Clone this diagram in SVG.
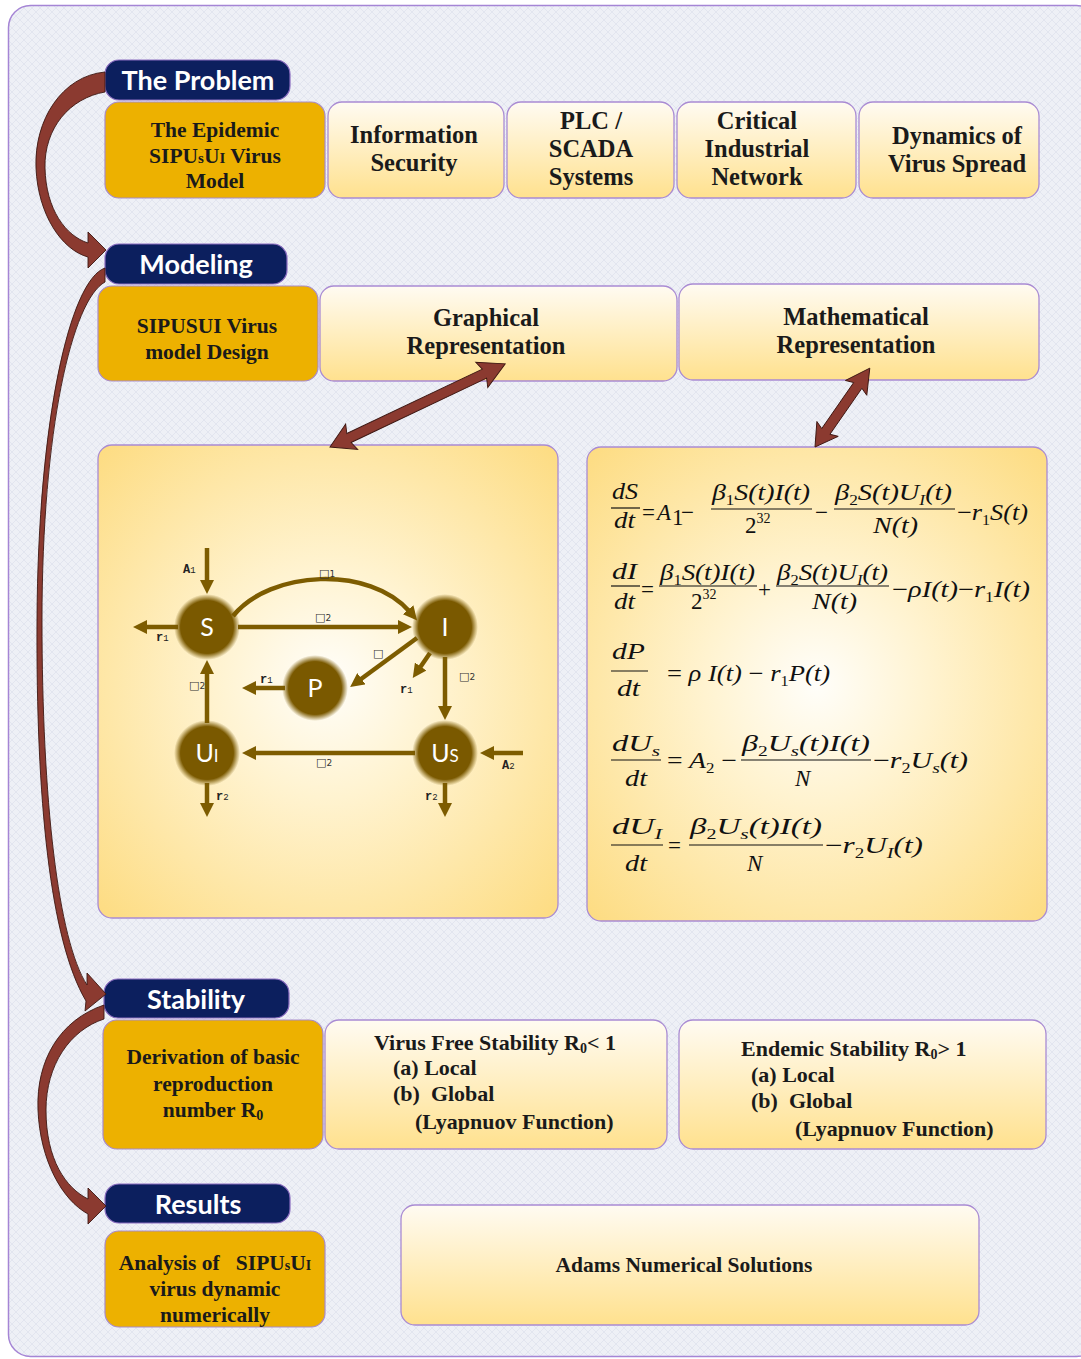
<svg xmlns="http://www.w3.org/2000/svg" width="1081" height="1359" viewBox="0 0 1081 1359">
<style>
.hdr{fill:#0c1f5e;stroke:#8a6cc0;stroke-width:1.2}
.htx{font-family:Lato,"Open Sans",sans-serif;font-weight:bold;font-size:27px;fill:#fff;text-anchor:middle}
.org{fill:#edb100;stroke:#a88bc9;stroke-width:1.2}
.lt{fill:url(#lg);stroke:#a98bd3;stroke-width:1.3}
.big{fill:url(#rg);stroke:#a98bd3;stroke-width:1.3}
.bt{font-family:"Liberation Serif",serif;font-weight:bold;font-size:21.5px;fill:#1a1a1a;text-anchor:middle}
.tp{font-size:24.5px}
.bs{font-family:"Liberation Serif",serif;font-weight:bold;font-size:22px;fill:#1a1a1a}
.blk{fill:#8b3a30;stroke:#3d1712;stroke-width:0.9}
.gl{stroke:#7d5c00;stroke-width:4.5;fill:none;marker-end:url(#ah)}
.nd{fill:url(#nodeg)}
.ntx{font-family:Lato,"Open Sans",sans-serif;font-size:25px;fill:#fff;text-anchor:middle}
.lb{font-family:"Liberation Mono",monospace;font-weight:bold;font-size:12px;fill:#222}
.bx{font-family:"DejaVu Sans",sans-serif;font-size:11px;fill:#333}
.m{font-family:"Liberation Serif",serif;font-style:italic;font-size:23px;fill:#111}
.mr{font-family:"Liberation Serif",serif;font-size:23px;fill:#111}
.fl{stroke:#111;stroke-width:1.2}
</style>
<defs>
<pattern id="bgp" width="8" height="8" patternUnits="userSpaceOnUse">
<rect width="8" height="8" fill="#eef0f6"/>
<path d="M0,0 L8,8 M8,0 L0,8" stroke="#dde1ec" stroke-width="0.7"/>
</pattern>
<linearGradient id="lg" x1="0" y1="0" x2="0" y2="1">
<stop offset="0" stop-color="#fffbf2"/>
<stop offset="1" stop-color="#ffe18e"/>
</linearGradient>
<radialGradient id="rg" cx="0.5" cy="0.5" r="0.7">
<stop offset="0" stop-color="#fffefa"/>
<stop offset="0.35" stop-color="#fff3d0"/>
<stop offset="1" stop-color="#fddc82"/>
</radialGradient>
<radialGradient id="nodeg" cx="0.5" cy="0.5" r="0.5">
<stop offset="0" stop-color="#7a5900"/>
<stop offset="0.8" stop-color="#7a5900"/>
<stop offset="1" stop-color="#7a5900" stop-opacity="0"/>
</radialGradient>
<marker id="ah" markerWidth="14" markerHeight="14" refX="3" refY="7" orient="auto" markerUnits="userSpaceOnUse">
<path d="M0,0 L14,7 L0,14 z" fill="#7d5c00"/>
</marker>
</defs>
<rect x="0" y="0" width="1081" height="1359" fill="#fff"/>
<rect x="8.5" y="5.5" width="1090" height="1351" rx="22" fill="url(#bgp)" stroke="#a585d5" stroke-width="1.5"/>

<g id="problem-header"><rect class="hdr" x="105" y="60" width="185" height="40" rx="14"/><text class="htx" x="198" y="90">The Problem</text></g>
<g id="epidemic"><rect class="org" x="105" y="102" width="220" height="96" rx="14"/>
<text class="bt" x="215" y="137">The Epidemic</text>
<text class="bt" x="215" y="163">SIPU<tspan font-size="15">s</tspan>U<tspan font-size="15">I</tspan> Virus</text>
<text class="bt" x="215" y="188">Model</text></g>
<g id="infosec"><rect class="lt" x="328" y="102" width="176" height="96" rx="14"/>
<text class="bt tp" x="414" y="143">Information</text><text class="bt tp" x="414" y="171">Security</text></g>
<g id="plc"><rect class="lt" x="507" y="102" width="167" height="96" rx="14"/>
<text class="bt tp" x="591" y="129">PLC /</text><text class="bt tp" x="591" y="157">SCADA</text><text class="bt tp" x="591" y="185">Systems</text></g>
<g id="critical"><rect class="lt" x="677" y="102" width="179" height="96" rx="14"/>
<text class="bt tp" x="757" y="129">Critical</text><text class="bt tp" x="757" y="157">Industrial</text><text class="bt tp" x="757" y="185">Network</text></g>
<g id="dynamics"><rect class="lt" x="859" y="102" width="180" height="96" rx="14"/>
<text class="bt tp" x="957" y="144">Dynamics of</text><text class="bt tp" x="957" y="172">Virus Spread</text></g>

<g id="modeling-header"><rect class="hdr" x="105" y="244" width="182" height="40" rx="14"/><text class="htx" x="196" y="274">Modeling</text></g>
<g id="design"><rect class="org" x="98" y="286" width="220" height="95" rx="14"/>
<text class="bt" x="207" y="333" font-size="22">SIPUSUI Virus</text><text class="bt" x="207" y="359" font-size="22">model Design</text></g>
<g id="graphical"><rect class="lt" x="320" y="286" width="357" height="95" rx="14"/>
<text class="bt tp" x="486" y="326">Graphical</text><text class="bt tp" x="486" y="354">Representation</text></g>
<g id="mathematical"><rect class="lt" x="679" y="284" width="360" height="96" rx="14"/>
<text class="bt tp" x="856" y="325">Mathematical</text><text class="bt tp" x="856" y="353">Representation</text></g>

<g id="graph-panel"><rect class="big" x="98" y="445" width="460" height="473" rx="14"/>
<g id="graph-edges">
<line class="gl" x1="207" y1="548" x2="207" y2="583"/>
<line class="gl" x1="178" y1="627" x2="144" y2="627"/>
<path class="gl" d="M233,616 C270,570 370,565 410,612"/>
<line class="gl" x1="238" y1="627" x2="401" y2="627"/>
<line class="gl" x1="417" y1="638" x2="359" y2="680.5"/>
<line class="gl" x1="430" y1="653" x2="419" y2="669"/>
<line class="gl" x1="445" y1="657" x2="445" y2="709"/>
<line class="gl" x1="285" y1="688" x2="253" y2="688"/>
<line class="gl" x1="207" y1="723" x2="207" y2="671"/>
<line class="gl" x1="415" y1="753" x2="253" y2="753"/>
<line class="gl" x1="523" y1="753" x2="491" y2="753"/>
<line class="gl" x1="207" y1="783" x2="207" y2="806"/>
<line class="gl" x1="445" y1="783" x2="445" y2="806"/>
</g>
<g id="node-S"><circle class="nd" cx="207" cy="627" r="33"/><text class="ntx" x="207" y="636">S</text></g>
<g id="node-I"><circle class="nd" cx="445" cy="627" r="33"/><text class="ntx" x="445" y="636">I</text></g>
<g id="node-P"><circle class="nd" cx="315" cy="688" r="33"/><text class="ntx" x="315" y="697">P</text></g>
<g id="node-UI"><circle class="nd" cx="207" cy="753" r="33"/><text class="ntx" x="207" y="762">U<tspan font-size="17">I</tspan></text></g>
<g id="node-US"><circle class="nd" cx="445" cy="753" r="33"/><text class="ntx" x="445" y="762">U<tspan font-size="17">S</tspan></text></g>
<g id="graph-labels">
<text class="lb" x="183" y="573">A<tspan font-size="9" font-weight="normal">1</tspan></text>
<text class="lb" x="156" y="641">r<tspan font-size="9" font-weight="normal">1</tspan></text>
<text class="bx" x="319" y="577">□<tspan font-size="9">1</tspan></text>
<text class="bx" x="315" y="621">□<tspan font-size="9">2</tspan></text>
<text class="bx" x="373" y="657">□</text>
<text class="lb" x="400" y="693">r<tspan font-size="9" font-weight="normal">1</tspan></text>
<text class="bx" x="459" y="680">□<tspan font-size="9">2</tspan></text>
<text class="lb" x="260" y="683">r<tspan font-size="9" font-weight="normal">1</tspan></text>
<text class="bx" x="189" y="689">□<tspan font-size="9">2</tspan></text>
<text class="bx" x="316" y="766">□<tspan font-size="9">2</tspan></text>
<text class="lb" x="502" y="769">A<tspan font-size="9" font-weight="normal">2</tspan></text>
<text class="lb" x="216" y="800">r<tspan font-size="9" font-weight="normal">2</tspan></text>
<text class="lb" x="425" y="800">r<tspan font-size="9" font-weight="normal">2</tspan></text>
</g></g>

<g id="equations-panel"><rect class="big" x="587" y="447" width="460" height="474" rx="14"/>
<g id="eq1">
<text class="m" x="612" y="499" textLength="26" lengthAdjust="spacingAndGlyphs">dS</text>
<line class="fl" x1="611" y1="508" x2="640" y2="508"/>
<text class="m" x="614" y="528" textLength="21" lengthAdjust="spacingAndGlyphs">dt</text>
<text class="mr" x="642" y="520">=</text>
<text class="m" x="657" y="520">A</text><text class="mr" x="672" y="525" font-size="14">1</text>
<text class="mr" x="681" y="520">−</text>
<text class="m" x="712" y="500" textLength="98" lengthAdjust="spacingAndGlyphs">β<tspan font-size="14" font-style="normal" dy="5">1</tspan><tspan dy="-5">S(t)I(t)</tspan></text>
<line class="fl" x1="711" y1="509" x2="812" y2="509"/>
<text class="mr" x="745" y="533">2<tspan font-size="14" dy="-10">32</tspan></text>
<text class="mr" x="815" y="520">−</text>
<text class="m" x="835" y="500" textLength="117" lengthAdjust="spacingAndGlyphs">β<tspan font-size="14" font-style="normal" dy="5">2</tspan><tspan dy="-5">S(t)U</tspan><tspan font-size="14" dy="5">I</tspan><tspan dy="-5">(t)</tspan></text>
<line class="fl" x1="834" y1="509" x2="955" y2="509"/>
<text class="m" x="873" y="533" textLength="45" lengthAdjust="spacingAndGlyphs">N(t)</text>
<text class="m" x="957" y="520" textLength="71" lengthAdjust="spacingAndGlyphs"><tspan font-style="normal">−</tspan>r<tspan font-size="14" font-style="normal" dy="5">1</tspan><tspan dy="-5">S(t)</tspan></text>
</g>
<g id="eq2">
<text class="m" x="612" y="579" textLength="25" lengthAdjust="spacingAndGlyphs">dI</text>
<line class="fl" x1="611" y1="586" x2="640" y2="586"/>
<text class="m" x="614" y="609" textLength="21" lengthAdjust="spacingAndGlyphs">dt</text>
<text class="mr" x="641" y="597">=</text>
<text class="m" x="660" y="580" textLength="95" lengthAdjust="spacingAndGlyphs">β<tspan font-size="14" font-style="normal" dy="5">1</tspan><tspan dy="-5">S(t)I(t)</tspan></text>
<line class="fl" x1="659" y1="586" x2="757" y2="586"/>
<text class="mr" x="691" y="609">2<tspan font-size="14" dy="-10">32</tspan></text>
<text class="mr" x="758" y="597">+</text>
<text class="m" x="777" y="580" textLength="111" lengthAdjust="spacingAndGlyphs">β<tspan font-size="14" font-style="normal" dy="5">2</tspan><tspan dy="-5">S(t)U</tspan><tspan font-size="14" dy="5">I</tspan><tspan dy="-5">(t)</tspan></text>
<line class="fl" x1="776" y1="586" x2="889" y2="586"/>
<text class="m" x="812" y="609" textLength="45" lengthAdjust="spacingAndGlyphs">N(t)</text>
<text class="m" x="892" y="597" textLength="138" lengthAdjust="spacingAndGlyphs"><tspan font-style="normal">−</tspan>ρI(t)<tspan font-style="normal">−</tspan>r<tspan font-size="14" font-style="normal" dy="5">1</tspan><tspan dy="-5">I(t)</tspan></text>
</g>
<g id="eq3">
<text class="m" x="612" y="659" textLength="33" lengthAdjust="spacingAndGlyphs">dP</text>
<line class="fl" x1="611" y1="671" x2="648" y2="671"/>
<text class="m" x="617" y="696" textLength="23" lengthAdjust="spacingAndGlyphs">dt</text>
<text class="m" x="667" y="681" textLength="163" lengthAdjust="spacingAndGlyphs"><tspan font-style="normal">=</tspan> ρ I(t) <tspan font-style="normal">−</tspan> r<tspan font-size="14" font-style="normal" dy="5">1</tspan><tspan dy="-5">P(t)</tspan></text>
</g>
<g id="eq4">
<text class="m" x="612" y="751" textLength="48" lengthAdjust="spacingAndGlyphs">dU<tspan font-size="15" dy="5">s</tspan></text>
<line class="fl" x1="611" y1="760" x2="661" y2="760"/>
<text class="m" x="625" y="786" textLength="22" lengthAdjust="spacingAndGlyphs">dt</text>
<text class="m" x="667" y="768" textLength="70" lengthAdjust="spacingAndGlyphs"><tspan font-style="normal">=</tspan> A<tspan font-size="14" font-style="normal" dy="5">2</tspan><tspan dy="-5" font-style="normal"> −</tspan></text>
<text class="m" x="742" y="751" textLength="128" lengthAdjust="spacingAndGlyphs">β<tspan font-size="14" font-style="normal" dy="5">2</tspan><tspan dy="-5">U</tspan><tspan font-size="15" dy="5">s</tspan><tspan dy="-5">(t)I(t)</tspan></text>
<line class="fl" x1="741" y1="760" x2="871" y2="760"/>
<text class="m" x="795" y="786">N</text>
<text class="m" x="873" y="768" textLength="95" lengthAdjust="spacingAndGlyphs"><tspan font-style="normal">−</tspan>r<tspan font-size="14" font-style="normal" dy="5">2</tspan><tspan dy="-5">U</tspan><tspan font-size="15" dy="5">s</tspan><tspan dy="-5">(t)</tspan></text>
</g>
<g id="eq5">
<text class="m" x="612" y="834" textLength="50" lengthAdjust="spacingAndGlyphs">dU<tspan font-size="15" dy="5">I</tspan></text>
<line class="fl" x1="611" y1="845" x2="663" y2="845"/>
<text class="m" x="625" y="871" textLength="22" lengthAdjust="spacingAndGlyphs">dt</text>
<text class="mr" x="668" y="853">=</text>
<text class="m" x="690" y="834" textLength="132" lengthAdjust="spacingAndGlyphs">β<tspan font-size="14" font-style="normal" dy="5">2</tspan><tspan dy="-5">U</tspan><tspan font-size="15" dy="5">s</tspan><tspan dy="-5">(t)I(t)</tspan></text>
<line class="fl" x1="689" y1="845" x2="823" y2="845"/>
<text class="m" x="747" y="871">N</text>
<text class="m" x="825" y="853" textLength="98" lengthAdjust="spacingAndGlyphs"><tspan font-style="normal">−</tspan>r<tspan font-size="14" font-style="normal" dy="5">2</tspan><tspan dy="-5">U</tspan><tspan font-size="15" dy="5">I</tspan><tspan dy="-5">(t)</tspan></text>
</g></g>

<g id="stability-header"><rect class="hdr" x="104" y="979" width="185" height="39" rx="14"/><text class="htx" x="196" y="1009">Stability</text></g>
<g id="derivation"><rect class="org" x="103" y="1020" width="220" height="129" rx="14"/>
<text class="bt" x="213" y="1064" font-size="21.2">Derivation of basic</text>
<text class="bt" x="213" y="1091" font-size="21.2">reproduction</text>
<text class="bt" x="213" y="1117" font-size="21.2">number R<tspan font-size="14" dy="3">0</tspan></text></g>
<g id="virus-free"><rect class="lt" x="325" y="1020" width="342" height="129" rx="14"/>
<text class="bs" x="374" y="1050">Virus Free Stability R<tspan font-size="14" dy="3">0</tspan><tspan dy="-3">&lt; 1</tspan></text>
<text class="bs" x="393" y="1075">(a) Local</text>
<text class="bs" x="393" y="1101" xml:space="preserve">(b)  Global</text>
<text class="bs" x="415" y="1129">(Lyapnuov Function)</text></g>
<g id="endemic"><rect class="lt" x="679" y="1020" width="367" height="129" rx="14"/>
<text class="bs" x="741" y="1056">Endemic Stability R<tspan font-size="14" dy="3">0</tspan><tspan dy="-3">&gt; 1</tspan></text>
<text class="bs" x="751" y="1082">(a) Local</text>
<text class="bs" x="751" y="1108" xml:space="preserve">(b)  Global</text>
<text class="bs" x="795" y="1136">(Lyapnuov Function)</text></g>

<g id="results-header"><rect class="hdr" x="105" y="1184" width="185" height="39" rx="14"/><text class="htx" x="198" y="1214">Results</text></g>
<g id="analysis"><rect class="org" x="105" y="1231" width="220" height="96" rx="14"/>
<text class="bt" x="215" y="1270" font-size="20" xml:space="preserve">Analysis of   SIPU<tspan font-size="14">s</tspan>U<tspan font-size="14">I</tspan></text>
<text class="bt" x="215" y="1296" font-size="20">virus dynamic</text>
<text class="bt" x="215" y="1322" font-size="20">numerically</text></g>
<g id="adams"><rect class="lt" x="401" y="1205" width="578" height="120" rx="14"/>
<text class="bt" x="684" y="1272" font-size="20.5">Adams Numerical Solutions</text></g>

<g id="connectors">
<path class="blk" d="M105,72 C62,76 34,120 36,168 C38,215 62,250 88,257 L88,268 L106,250 L88,232 L88,243 C66,236 46,210 45,168 C44,128 70,98 105,92 Z"/>
<path class="blk" d="M105,268 C70,280 38,420 37,620 C36,800 50,940 86,1001 L85,1011 L106,994 L87,973 L87,985 C58,940 42,800 42,620 C42,430 72,300 105,282 Z"/>
<path class="blk" d="M104,1005 C60,1020 36,1060 38,1110 C40,1160 62,1200 88,1214 L88,1224 L106,1206 L88,1188 L88,1199 C66,1188 46,1160 46,1110 C46,1065 70,1030 104,1019 Z"/>
<polygon class="blk" transform="translate(330,447) rotate(-25.4)" points="0,0 24,-14 21,-5 171,-5 168,-14 194,0 168,14 171,5 21,5 24,14"/>
<polygon class="blk" transform="translate(815,447) rotate(-55.2)" points="0,0 22,-13 19,-5 75,-5 72,-13 96,0 72,13 75,5 19,5 22,13"/>
</g>
</svg>
